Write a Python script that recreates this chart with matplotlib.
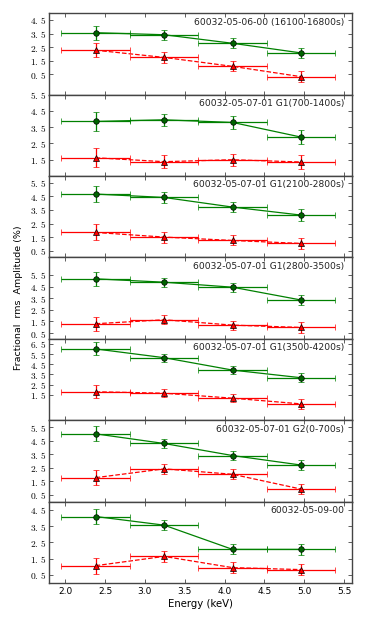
import numpy as np
import matplotlib.pyplot as plt
from matplotlib.ticker import FixedLocator, FuncFormatter

plt.rcParams['mathtext.fontset'] = 'cm'

# energy bins (keV)
energy = [2.38, 3.24, 4.10, 4.96]
energy_err = [0.43, 0.43, 0.43, 0.43]

labels = [
    '60032-05-06-00 (16100-16800s)',
    '60032-05-07-01 G1(700-1400s)',
    '60032-05-07-01 G1(2100-2800s)',
    '60032-05-07-01 G1(2800-3500s)',
    '60032-05-07-01 G1(3500-4200s)',
    '60032-05-07-01 G2(0-700s)',
    '60032-05-09-00',
]

# green (circles)
green_rms = [
    [3.56, 3.41, 2.78, 2.07],
    [3.85, 3.95, 3.79, 2.89],
    [4.67, 4.42, 3.71, 3.12],
    [5.16, 4.87, 4.44, 3.34],
    [6.01, 5.15, 3.93, 3.18],
    [5.00, 4.29, 3.40, 2.70],
    [4.09, 3.56, 2.07, 2.07],
]
green_err = [
    [0.53, 0.38, 0.37, 0.38],
    [0.59, 0.36, 0.38, 0.42],
    [0.59, 0.39, 0.38, 0.44],
    [0.62, 0.39, 0.39, 0.45],
    [0.64, 0.41, 0.38, 0.44],
    [0.56, 0.33, 0.35, 0.35],
    [0.49, 0.31, 0.31, 0.33],
]

# red (triangles)
red_rms = [
    [2.27, 1.74, 1.08, 0.32],
    [1.62, 1.38, 1.50, 1.36],
    [1.84, 1.50, 1.25, 1.03],
    [1.30, 1.64, 1.18, 0.98],
    [1.80, 1.66, 1.17, 0.61],
    [1.77, 2.42, 2.02, 0.93],
    [1.07, 1.64, 0.95, 0.83],
]
red_err = [
    [0.53, 0.38, 0.37, 0.40],
    [0.59, 0.40, 0.38, 0.44],
    [0.59, 0.40, 0.37, 0.43],
    [0.62, 0.40, 0.39, 0.45],
    [0.63, 0.41, 0.39, 0.46],
    [0.55, 0.37, 0.36, 0.37],
    [0.49, 0.33, 0.35, 0.35],
]

ylims = [(-1, 5), (0.5, 5.5), (0, 6), (0, 7), (-1, 7), (0, 6), (0, 5)]
yticks = [
    [0.5, 1.5, 2.5, 3.5, 4.5],
    [1.5, 2.5, 3.5, 4.5, 5.5],
    [0.5, 1.5, 2.5, 3.5, 4.5, 5.5],
    [0.5, 1.5, 2.5, 3.5, 4.5, 5.5],
    [1.5, 2.5, 3.5, 4.5, 5.5, 6.5],
    [0.5, 1.5, 2.5, 3.5, 4.5, 5.5],
    [0.5, 1.5, 2.5, 3.5, 4.5],
]
xticks = [2.0, 2.5, 3.0, 3.5, 4.0, 4.5, 5.0, 5.5]

fig, axes = plt.subplots(7, 1, figsize=(3.92, 6.27), dpi=100, sharex=True)
fig.subplots_adjust(left=0.126, right=0.898, top=0.979, bottom=0.070, hspace=0)

fmt = FuncFormatter(lambda v, p: r'$%d.\,%d$' % (int(v), int(round(v * 10)) % 10))

for i, ax in enumerate(axes):
    ax.errorbar(energy, green_rms[i], xerr=energy_err, yerr=green_err[i],
                color='g', ls='-', lw=0.9, marker='o', ms=4, mfc='#006400',
                mec='k', mew=0.5, capsize=2, elinewidth=0.9)
    ax.errorbar(energy, red_rms[i], xerr=energy_err, yerr=red_err[i],
                color='r', ls='--', lw=0.9, marker='^', ms=4, mfc='r',
                mec='k', mew=0.5, capsize=2, elinewidth=0.9)
    ax.set_ylim(ylims[i])
    ax.set_xlim(1.8, 5.6)
    ax.yaxis.set_major_locator(FixedLocator(yticks[i]))
    ax.yaxis.set_major_formatter(fmt)
    ax.xaxis.set_major_locator(FixedLocator(xticks))
    ax.tick_params(direction='in', top=True, right=True, length=3,
                   width=0.6, color='#444444', labelsize=6.8, pad=2)
    for s in ax.spines.values():
        s.set_color('#444444')
        s.set_linewidth(1.0)
    ax.text(0.974, 0.89, labels[i], transform=ax.transAxes, ha='right',
            va='center', fontsize=6.6, color='#222222')

axes[-1].set_xticklabels(['2.0', '2.5', '3.0', '3.5', '4.0', '4.5', '5.0', '5.5'])
axes[-1].tick_params(axis='x', labelsize=6.5, pad=3)
axes[-1].set_xlabel('Energy (keV)', fontsize=7.3, labelpad=2)
fig.text(0.047, 0.525, 'Fractional  rms  Amplitude (%)', rotation=90,
         ha='center', va='center', fontsize=6.8)

fig.savefig('out.png', dpi=100)
